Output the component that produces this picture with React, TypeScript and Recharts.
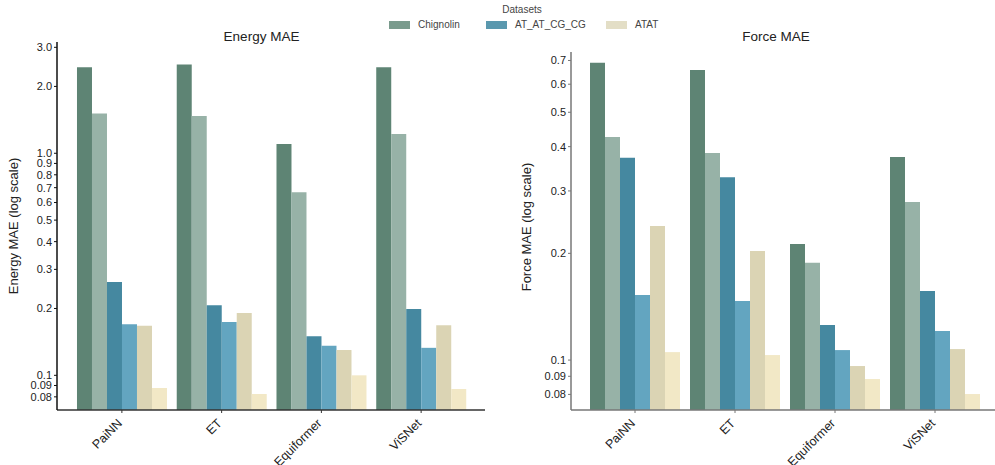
import React from 'react';
import { BarChart, Bar, XAxis, YAxis } from 'recharts';

const models = ['PaiNN', 'ET', 'Equiformer', 'ViSNet'];
const datasets = ['Chignolin', 'AT_AT_CG_CG', 'ATAT'];

// Energy MAE
const energyChignolinA = [2.44, 2.51, 1.1, 2.44];
const energyChignolinB = [1.51, 1.47, 0.668, 1.22];
const energyAtatcgcgA = [0.263, 0.207, 0.15, 0.199];
const energyAtatcgcgB = [0.17, 0.174, 0.136, 0.133];
const energyAtatA = [0.167, 0.191, 0.13, 0.168];
const energyAtatB = [0.0877, 0.0824, 0.1, 0.0868];

// Force MAE
const forceChignolinA = [0.69, 0.658, 0.2125, 0.374];
const forceChignolinB = [0.426, 0.384, 0.188, 0.279];
const forceAtatcgcgA = [0.372, 0.328, 0.1255, 0.1566];
const forceAtatcgcgB = [0.1525, 0.1467, 0.1067, 0.1207];
const forceAtatA = [0.239, 0.203, 0.0962, 0.1074];
const forceAtatB = [0.1053, 0.1033, 0.0884, 0.0802];

const energyTicks = [0.08, 0.09, 0.1, 0.2, 0.3, 0.4, 0.5, 0.6, 0.7, 0.8, 0.9, 1.0, 2.0, 3.0];
const forceTicks = [0.08, 0.09, 0.1, 0.2, 0.3, 0.4, 0.5, 0.6, 0.7];

const seriesKeys = ['chignolinA', 'chignolinB', 'atatcgcgA', 'atatcgcgB', 'atatA', 'atatB'];
const seriesColors = ['#5e8474', '#97b2a7', '#4588a0', '#63a5c0', '#dbd4b4', '#f2e8c6'];
const legendColors = ['#7a9b8d', '#5a98ae', '#e3dec6'];

const energyData = models.map((m, i) => ({
  model: m,
  chignolinA: energyChignolinA[i],
  chignolinB: energyChignolinB[i],
  atatcgcgA: energyAtatcgcgA[i],
  atatcgcgB: energyAtatcgcgB[i],
  atatA: energyAtatA[i],
  atatB: energyAtatB[i],
}));

const forceData = models.map((m, i) => ({
  model: m,
  chignolinA: forceChignolinA[i],
  chignolinB: forceChignolinB[i],
  atatcgcgA: forceAtatcgcgA[i],
  atatcgcgB: forceAtatcgcgB[i],
  atatA: forceAtatA[i],
  atatB: forceAtatB[i],
}));

const FONT = '"Liberation Sans", Arial, Helvetica, sans-serif';

const fmt = (v: number) => (v >= 1 ? v.toFixed(1) : String(v));

const XTick = (props: any) => {
  const { x, y, payload } = props;
  return (
    <g transform={`translate(${x + 1},${y + 9})`}>
      <text x={0} y={0} textAnchor="end" transform="rotate(-45)" fontSize={12.5} fill="#222" fontFamily={FONT}>
        {payload.value}
      </text>
    </g>
  );
};

const Panel = ({ data, ticks, domain, yWidth, top, axisColor, yAxisColor, padding }: any) => (
  <BarChart
    width={500}
    height={465}
    data={data}
    margin={{ top, right: yWidth === 57 ? 15 : 0, bottom: 0, left: 0 }}
    barGap={0}
    barCategoryGap="5%"
  >
    <XAxis
      dataKey="model"
      height={55}
      padding={padding}
      tick={<XTick />}
      tickSize={3}
      tickMargin={2}
      axisLine={{ stroke: axisColor, strokeWidth: 1.5 }}
      tickLine={{ stroke: axisColor }}
      interval={0}
    />
    <YAxis
      type="number"
      scale="log"
      domain={domain}
      allowDataOverflow
      ticks={ticks}
      tickFormatter={fmt}
      width={yWidth}
      tickSize={3}
      tickMargin={2}
      interval={0}
      axisLine={{ stroke: yAxisColor, strokeWidth: 1.5 }}
      tickLine={{ stroke: yAxisColor }}
      tick={{ fontSize: 11, fill: '#222', fontFamily: FONT }}
    />
    {seriesKeys.map((k, i) => (
      <Bar key={k} dataKey={k} fill={seriesColors[i]} isAnimationActive={false} />
    ))}
  </BarChart>
);

export default function App() {
  return (
    <div style={{ position: 'absolute', left: 0, top: 0, width: 995, height: 465, overflow: 'hidden', background: '#fff', fontFamily: FONT }}>
      <div style={{ position: 'absolute', left: 0, top: 0 }}>
        <Panel data={energyData} ticks={energyTicks} domain={[0.0698, 3.17]} yWidth={57} top={42} axisColor="#333" yAxisColor="#111" padding={{ left: 15, right: 14 }} />
      </div>
      <div style={{ position: 'absolute', left: 500, top: 0 }}>
        <Panel data={forceData} ticks={forceTicks} domain={[0.0723, 0.7396]} yWidth={71} top={52} axisColor="#777" yAxisColor="#777" padding={{ left: 14, right: 15 }} />
      </div>
      <svg width={995} height={465} style={{ position: 'absolute', left: 0, top: 0, pointerEvents: 'none' }} fontFamily={FONT}>
        <text x={522} y={12.7} textAnchor="middle" fontSize={10} fill="#444">Datasets</text>
        {datasets.map((d, i) => {
          const sx = [389, 486, 606][i];
          return (
            <g key={d}>
              <rect x={sx} y={21} width={21} height={8} fill={legendColors[i]} />
              <text x={sx + 29} y={28.3} fontSize={10} fill="#444">{d}</text>
            </g>
          );
        })}
        <text x={261.5} y={41.4} textAnchor="middle" fontSize={13.5} fill="#222">Energy MAE</text>
        <text x={776} y={41.4} textAnchor="middle" fontSize={13.5} fill="#222">Force MAE</text>
        <text x={17.6} y={226} textAnchor="middle" fontSize={13} fill="#222" transform="rotate(-90, 17.6, 226)">Energy MAE (log scale)</text>
        <text x={531} y={227} textAnchor="middle" fontSize={13} fill="#222" transform="rotate(-90, 531, 227)">Force MAE (log scale)</text>
      </svg>
    </div>
  );
}
